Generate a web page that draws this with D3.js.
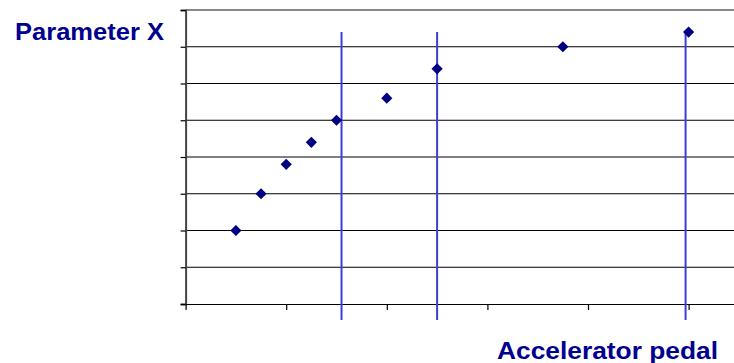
<!DOCTYPE html>
<html><head><meta charset="utf-8">
<script src="https://cdn.jsdelivr.net/npm/d3@7"></script>
<style>body{margin:0;background:#fff}svg{display:block}</style>
</head><body>
<script>
const xValues = [0.5, 0.75, 1.0, 1.25, 1.5, 2.0, 2.5, 3.75, 5.0];
const yValues = [2, 3, 3.8, 4.4, 5, 5.6, 6.4, 7, 7.4];
const markerX = [1.55, 2.5, 4.97];
const xTicks = [0, 1, 2, 3, 4, 5];
const yTicks = [0, 1, 2, 3, 4, 5, 6, 7, 8];
const yLabel = "Parameter X";
const xLabel = "Accelerator pedal";

const W = 734, H = 363;
const svg = d3.select("body").append("svg").attr("width", W).attr("height", H);
const x = d3.scaleLinear().domain([0, 6]).range([185.6, 789.2]);
const y = d3.scaleLinear().domain([0, 8]).range([304, 10]);

// gridlines
svg.append("g").selectAll("line").data(yTicks.slice(1)).join("line")
  .attr("x1", x(0)).attr("x2", W).attr("y1", d => y(d)).attr("y2", d => y(d))
  .attr("stroke", d => d === 8 ? "#888" : "#000").attr("stroke-width", d => d === 8 ? 2 : 1.2);

// y axis
const ya = svg.append("g").attr("transform", `translate(${x(0)},0)`)
  .call(d3.axisLeft(y).tickValues(yTicks).tickSize(5).tickFormat(""));
ya.select(".domain").attr("stroke", "#444").attr("stroke-width", 2);
ya.selectAll(".tick line").attr("stroke", "#000").attr("stroke-width", 1.2);

// x axis
const xa = svg.append("g").attr("transform", `translate(0,${y(0)})`)
  .call(d3.axisBottom(x).tickValues(xTicks).tickSize(6).tickSizeOuter(0).tickFormat(""));
xa.select(".domain").attr("stroke", "#000").attr("stroke-width", 1.2);
xa.selectAll(".tick line").attr("stroke", "#000").attr("stroke-width", 1.2);

// vertical markers
svg.append("g").selectAll("line").data(markerX).join("line")
  .attr("x1", d => x(d)).attr("x2", d => x(d)).attr("y1", 32).attr("y2", 320)
  .attr("stroke", "#3d3dd6").attr("stroke-width", 2);

// points
svg.append("g").selectAll("path").data(xValues.map((v, i) => [v, yValues[i]])).join("path")
  .attr("d", d3.symbol(d3.symbolDiamond2 || d3.symbolDiamond, 80))
  .attr("transform", d => `translate(${x(d[0])},${y(d[1])})`)
  .attr("fill", "#000080");

// labels
svg.append("text").attr("x", 15).attr("y", 40).text(yLabel)
  .attr("font-family", "Liberation Sans, Arial, sans-serif").attr("font-weight", "bold")
  .attr("font-size", 24).attr("fill", "#000090")
  .attr("textLength", 149).attr("lengthAdjust", "spacingAndGlyphs");
svg.append("text").attr("x", 497).attr("y", 359).text(xLabel)
  .attr("font-family", "Liberation Sans, Arial, sans-serif").attr("font-weight", "bold")
  .attr("font-size", 24).attr("fill", "#000090")
  .attr("textLength", 221).attr("lengthAdjust", "spacingAndGlyphs");
</script>
</body></html>
